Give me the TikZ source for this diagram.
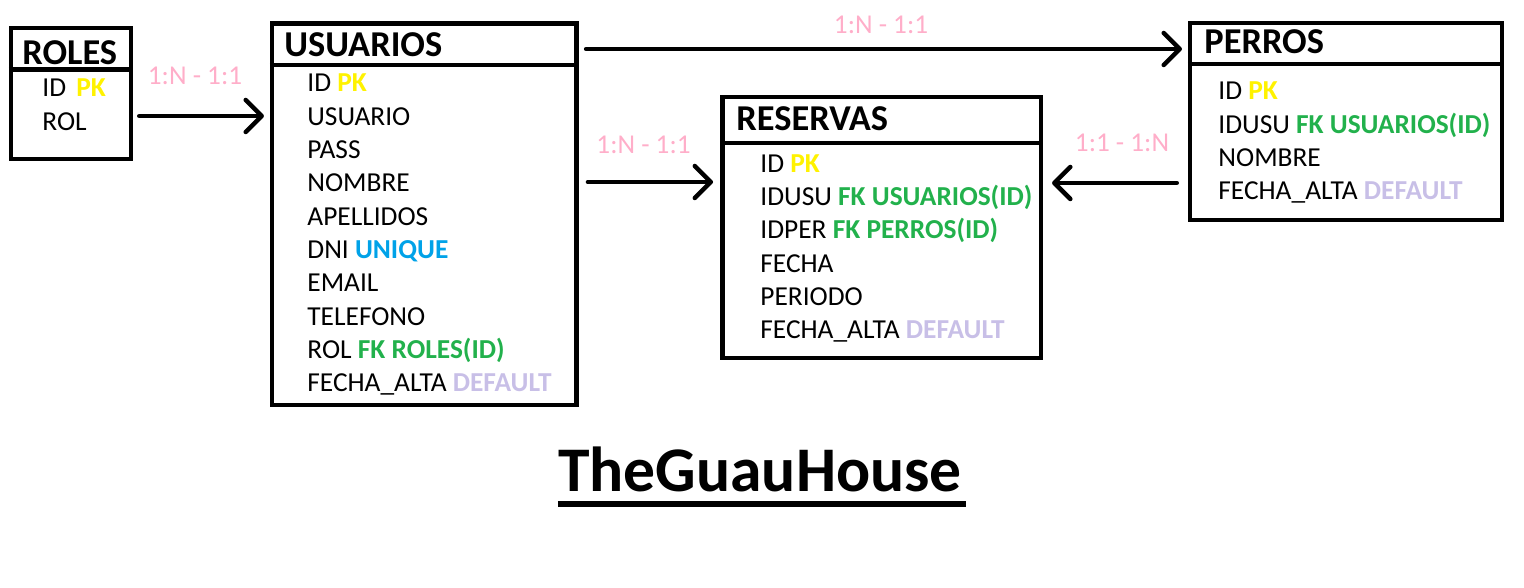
\documentclass[tikz,border=0pt]{standalone}
\usepackage{fontspec}
\setmainfont{Carlito}
\usetikzlibrary{arrows.meta}

\definecolor{amarillo}{HTML}{FFF200}
\definecolor{azul}{HTML}{00A2E8}
\definecolor{verde}{HTML}{22B14C}
\definecolor{lila}{HTML}{C8BFE7}
\definecolor{rosa}{HTML}{FFAEC9}

\tikzset{
	tabla/.style={draw,line width=2.25pt,inner sep=0pt},
	cabecera/.style={anchor=base west,inner sep=0pt,font=\fontsize{18.2}{20}\selectfont\bfseries},
	campo/.style={anchor=base west,inner sep=0pt,font=\fontsize{13.7}{15}\selectfont},
	card/.style={anchor=base,inner sep=0pt,text=rosa,font=\fontsize{13.6}{15}\selectfont},
	rel/.style={line width=2.25pt,line cap=round,-{Straight Barb[length=8pt,width=16pt,round]}}
}

\begin{document}
\begin{tikzpicture}[x=0.5pt,y=-0.5pt]
		\useasboundingbox (0,0) rectangle (1524,588);
		
		% tablas
		\node[tabla,minimum width=60pt,minimum height=65.5pt] (roles) at (71,93.5) {};
		\node[tabla,minimum width=152.25pt,minimum height=190.75pt] (usuarios) at (424.25,214.25) {};
		\node[tabla,minimum width=159.25pt,minimum height=130.5pt] (reservas) at (881.75,227.5) {};
		\node[tabla,minimum width=156pt,minimum height=98.5pt] (perros) at (1346,121.5) {};
		
		\draw[line width=2.25pt] (roles.west |- 0,69.5) -- (roles.east |- 0,69.5);
		\draw[line width=2.25pt] (usuarios.west |- 0,65) -- (usuarios.east |- 0,65);
		\draw[line width=2.25pt] (reservas.west |- 0,143) -- (reservas.east |- 0,143);
		\draw[line width=2.25pt] (perros.west |- 0,64) -- (perros.east |- 0,64);
		
		% ROLES
		\node[cabecera] (troles) at (22,65) {ROLES};
		\node[campo] (r1) at (42,96.7) {ID\hspace{2pt} \textcolor{amarillo}{\bfseries PK}};
		\node[campo] (r2) at (42,131) {ROL};
		
		% USUARIOS
		\node[cabecera] (tusuarios) at (284,57) {USUARIOS};
		\node[campo] (u1) at (307,92) {ID \textcolor{amarillo}{\bfseries PK}};
		\node[campo] (u2) at (307,125.3) {USUARIO};
		\node[campo] (u3) at (307,158.6) {PASS};
		\node[campo] (u4) at (307,191.9) {NOMBRE};
		\node[campo] (u5) at (307,225.2) {APELLIDOS};
		\node[campo] (u6) at (307,258.5) {DNI \textcolor{azul}{\bfseries UNIQUE}};
		\node[campo] (u7) at (307,291.8) {EMAIL};
		\node[campo] (u8) at (307,325.1) {TELEFONO};
		\node[campo] (u9) at (307,358.4) {ROL \textcolor{verde}{\bfseries FK ROLES(ID)}};
		\node[campo] (u10) at (307,391.7) {FECHA\_ALTA \textcolor{lila}{\bfseries DEFAULT}};
		
		% RESERVAS
		\node[cabecera] (treservas) at (736,131) {RESERVAS};
		\node[campo] (s1) at (760,172.5) {ID \textcolor{amarillo}{\bfseries PK}};
		\node[campo] (s2) at (760,205.7) {IDUSU \textcolor{verde}{\bfseries FK USUARIOS(ID)}};
		\node[campo] (s3) at (760,238.9) {IDPER \textcolor{verde}{\bfseries FK PERROS(ID)}};
		\node[campo] (s4) at (760,272.1) {FECHA};
		\node[campo] (s5) at (760,305.3) {PERIODO};
		\node[campo] (s6) at (760,338.5) {FECHA\_ALTA \textcolor{lila}{\bfseries DEFAULT}};
		
		% PERROS
		\node[cabecera] (tperros) at (1204,54) {PERROS};
		\node[campo] (p1) at (1218,100) {ID \textcolor{amarillo}{\bfseries PK}};
		\node[campo] (p2) at (1218,133.2) {IDUSU \textcolor{verde}{\bfseries FK USUARIOS(ID)}};
		\node[campo] (p3) at (1218,166.4) {NOMBRE};
		\node[campo] (p4) at (1218,199.6) {FECHA\_ALTA \textcolor{lila}{\bfseries DEFAULT}};
		
		% relaciones
		\draw[rel,shorten <=3pt,shorten >=2.9pt] (roles.east |- 0,116) -- (usuarios.west |- 0,116);
		\draw[rel,shorten <=3.7pt,shorten >=2.9pt] (usuarios.east |- 0,49) -- (perros.west |- 0,49);
		\draw[rel,shorten <=4.6pt,shorten >=3.6pt] (usuarios.east |- 0,182) -- (reservas.west |- 0,182);
		\draw[rel,shorten <=5.5pt,shorten >=4.4pt] (perros.west |- 0,183) -- (reservas.east |- 0,183);
		
		\node[card] (c1) at (195,84.6) {1:N - 1:1};
		\node[card] (c2) at (881,33.7) {1:N - 1:1};
		\node[card] (c3) at (643.5,153.3) {1:N - 1:1};
		\node[card] (c4) at (1122,152) {1:1 - 1:N};
		
		% titulo
		\node[anchor=base,inner sep=0pt,font=\fontsize{31.8}{34}\selectfont\bfseries] (titulo) at (760,491.7) {TheGuauHouse};
		\draw[line width=3pt] ([yshift=-6pt]titulo.base west) -- ([yshift=-6pt,xshift=2pt]titulo.base east);
	
	\end{tikzpicture}
\end{document}
